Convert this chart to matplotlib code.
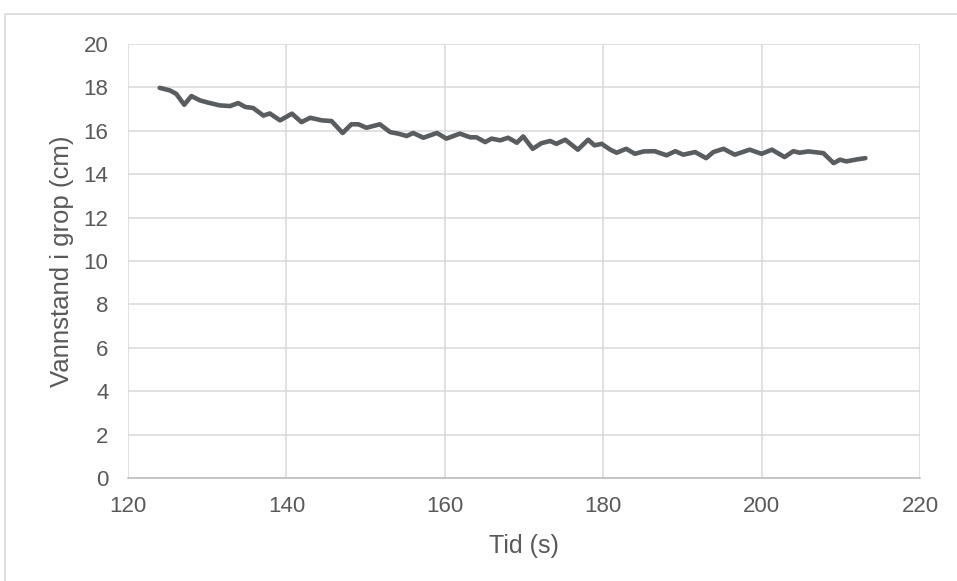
import matplotlib
matplotlib.use("Agg")
import matplotlib.pyplot as plt
from matplotlib.patches import Rectangle

tid = [124.0, 125.3, 126.1, 127.1, 128.0, 129.1, 130.1, 131.6, 132.9, 133.9, 134.8, 135.8,
       137.1, 137.9, 139.2, 140.7, 141.9, 143.0, 144.5, 145.7, 147.1, 148.2, 149.1, 150.1,
       151.8, 153.1, 154.1, 155.2, 156.0, 157.3, 159.0, 160.2, 161.9, 163.2, 164.0, 165.1,
       165.9, 167.0, 168.0, 169.1, 169.9, 171.1, 172.2, 173.3, 174.1, 175.2, 176.8, 178.1,
       178.9, 179.8, 180.9, 181.7, 182.9, 184.0, 185.1, 186.5, 188.0, 189.1, 190.1, 191.6,
       193.0, 193.9, 195.2, 196.6, 198.5, 200.0, 201.3, 202.9, 204.0, 204.8, 205.9, 207.8,
       209.1, 209.9, 210.7, 212.0, 213.1]
vannstand = [17.98, 17.86, 17.70, 17.20, 17.60, 17.40, 17.30, 17.17, 17.14, 17.28, 17.10, 17.05,
             16.70, 16.80, 16.48, 16.79, 16.40, 16.60, 16.48, 16.45, 15.90, 16.30, 16.30, 16.14,
             16.30, 15.94, 15.87, 15.76, 15.90, 15.68, 15.90, 15.64, 15.87, 15.70, 15.70, 15.48,
             15.64, 15.56, 15.68, 15.45, 15.74, 15.17, 15.43, 15.53, 15.40, 15.59, 15.13, 15.59,
             15.33, 15.40, 15.13, 14.99, 15.17, 14.94, 15.05, 15.06, 14.87, 15.06, 14.90, 15.02,
             14.74, 15.02, 15.17, 14.90, 15.13, 14.94, 15.13, 14.79, 15.06, 14.99, 15.05, 14.97,
             14.51, 14.67, 14.59, 14.68, 14.74]
x_ticks = [120, 140, 160, 180, 200, 220]
y_ticks = [0, 2, 4, 6, 8, 10, 12, 14, 16, 18, 20]

plt.rcParams['font.family'] = ['Liberation Sans', 'DejaVu Sans']
txt = '#595959'

fig = plt.figure(figsize=(9.57, 5.81), dpi=100)
fig.patches.append(Rectangle((5 / 957, -0.1), 1.2, 1 - 14 / 581 + 0.1, transform=fig.transFigure,
                             fill=False, edgecolor='#d9d9d9', linewidth=1.2))
ax = fig.add_axes([128 / 957, 1 - 478 / 581, (920 - 128) / 957, (478 - 44) / 581])

ax.plot(tid, vannstand, color='#595d60', linewidth=3.3, solid_joinstyle='round', solid_capstyle='round')

ax.set_xlim(120, 220)
ax.set_ylim(0, 20)
ax.set_xticks(x_ticks)
ax.set_yticks(y_ticks)
ax.grid(True, color='#d9d9d9', linewidth=1.1)
ax.set_axisbelow(True)
for s in ['top', 'right', 'left']:
    ax.spines[s].set_visible(False)
ax.spines['bottom'].set_color('#bfbfbf')
ax.spines['bottom'].set_linewidth(1.2)
ax.tick_params(length=0, labelsize=16, labelcolor=txt)
ax.tick_params(axis='y', pad=14)
ax.tick_params(axis='x', pad=13)
ax.set_xlabel('Tid (s)', fontsize=18, color=txt, labelpad=12)
ax.set_ylabel('Vannstand i grop (cm)', fontsize=18.5, color=txt, labelpad=7)

fig.savefig('out.png', dpi=100)
